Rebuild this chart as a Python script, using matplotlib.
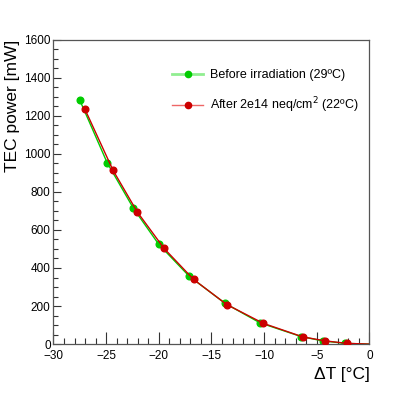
import matplotlib
matplotlib.use("Agg")
import matplotlib.pyplot as plt
from matplotlib.ticker import MultipleLocator
from matplotlib.lines import Line2D

plt.rcParams['font.family'] = ['Liberation Sans', 'DejaVu Sans']

# Data
dt_before = [-27.5, -24.9, -22.4, -20.0, -17.1, -13.7, -10.4, -6.5, -4.45, -2.3, 0.0]
p_before = [1282, 953, 713, 524, 356, 214, 112, 40, 17, 4, 0]
dt_after = [-27.0, -24.35, -22.05, -19.5, -16.7, -13.55, -10.07, -6.33, -4.2, -2.15, 0.0]
p_after = [1233, 914, 695, 503, 340, 208, 109, 38, 17, 4, 0]

label_before = "Before irradiation (29ºC)"
label_after = "After 2e14 neq/cm$^{2}$ (22ºC)"

green = "#00cc00"
red = "#cc0000"

fig = plt.figure(figsize=(4.11, 3.96), dpi=100)
ax = fig.add_axes([0.130, 0.131, 0.769, 0.769])

n = len(dt_before)
ax.plot(dt_before, p_before, color=green, lw=1.0, marker='o', ms=4.8,
        markevery=list(range(n - 1)), mec=green, mfc=green, zorder=2)
ax.plot(dt_after, p_after, color=red, lw=1.0, marker='o', ms=4.8,
        markevery=list(range(len(dt_after) - 1)), mec=red, mfc=red, zorder=3)

ax.set_xlim(-30, 0)
ax.set_ylim(0, 1600)
ax.xaxis.set_major_locator(MultipleLocator(5))
ax.xaxis.set_minor_locator(MultipleLocator(1))
ax.yaxis.set_major_locator(MultipleLocator(200))
ax.yaxis.set_minor_locator(MultipleLocator(50))
ax.tick_params(which='both', direction='in', top=False, right=False,
               labelsize=8.5, colors='#333333', labelcolor='black', width=0.8)
ax.tick_params(axis='x', which='major', length=9, pad=4)
ax.tick_params(axis='x', which='minor', length=4.5)
ax.tick_params(axis='y', which='major', length=6, pad=2)
ax.tick_params(axis='y', which='minor', length=3.5)
for s in ax.spines.values():
    s.set_color('#555555')
    s.set_linewidth(0.9)

ax.set_xticklabels([f"{int(v)}".replace('-', '\u2212') for v in ax.get_xticks()])

ax.set_ylabel("TEC power [mW]", fontsize=12.5, loc='top', labelpad=3)
ax.set_xlabel("ΔT [°C]", fontsize=12.5, loc='right', labelpad=4)

handles = [
    Line2D([0], [0], color='#90ee90', lw=2.0, marker='o', ms=4.5, mfc=green, mec=green),
    Line2D([0], [0], color='#ee6666', lw=1.0, marker='o', ms=4.5, mfc=red, mec=red),
]
ax.legend(handles, [label_before, label_after], loc='upper left',
          bbox_to_anchor=(0.359, 0.92), frameon=False, fontsize=9,
          handlelength=2.5, handletextpad=0.55, labelspacing=1.15,
          borderaxespad=0.0)

fig.savefig("out.png", dpi=100)
